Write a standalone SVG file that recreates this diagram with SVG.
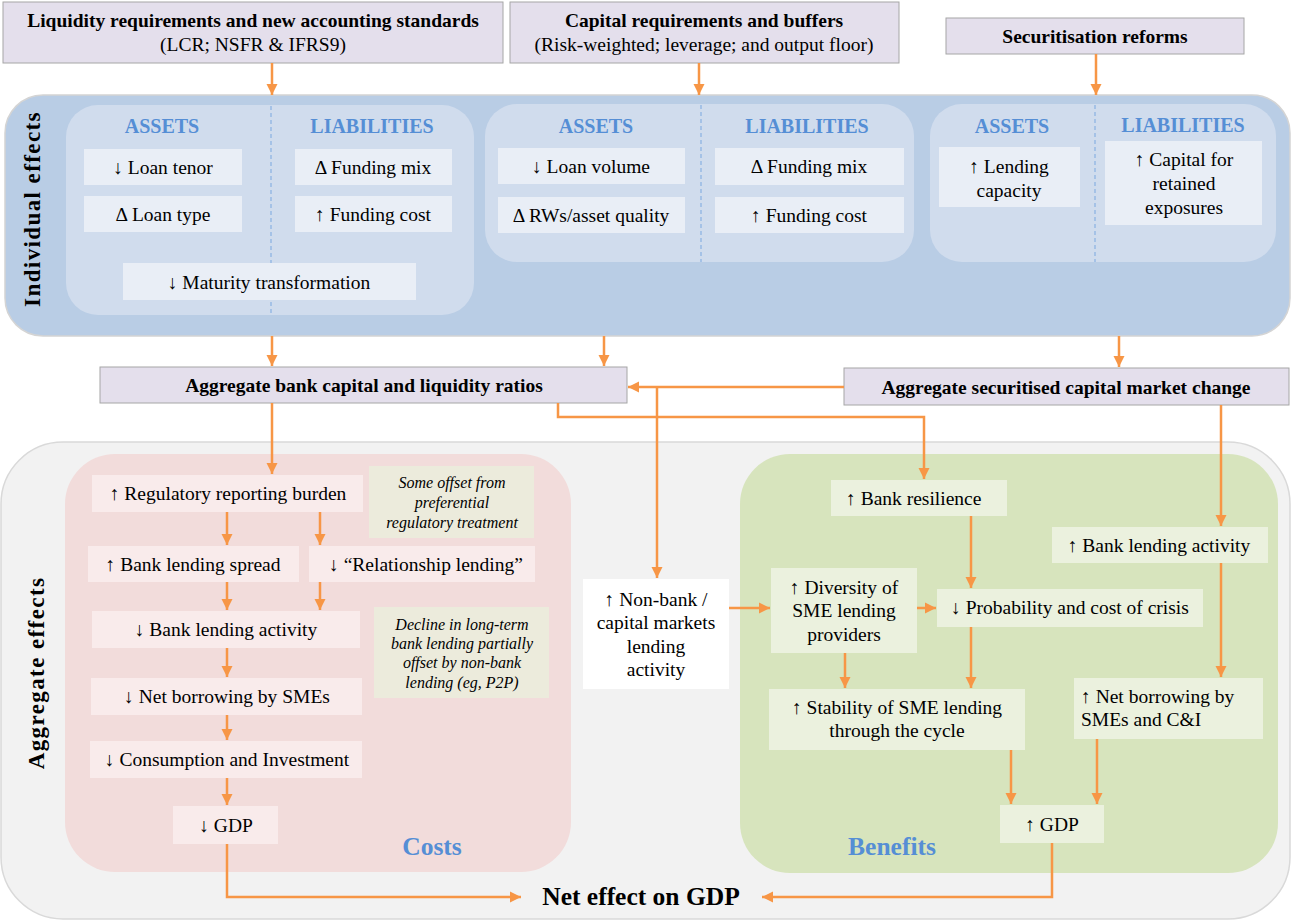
<svg xmlns="http://www.w3.org/2000/svg" width="1292" height="921" viewBox="0 0 1292 921" font-family="'Liberation Serif', 'Times New Roman', serif">
<defs>
<marker id="ah" markerUnits="userSpaceOnUse" markerWidth="12" markerHeight="12" refX="11" refY="6" orient="auto"><path d="M0,0.5 L11,6 L0,11.5 z" fill="#f79646"/></marker>
<style>
text{fill:#000;}
.t{font-size:19.5px;text-anchor:middle;}
.tl{font-size:19.5px;}
.b{font-size:19.5px;font-weight:bold;text-anchor:middle;}
.h{font-size:20px;font-weight:bold;fill:#558ed5;text-anchor:middle;}
.lab{font-size:25.5px;font-weight:bold;fill:#558ed5;text-anchor:middle;}
.side{font-size:23px;font-weight:bold;text-anchor:middle;letter-spacing:1.4px;}
.it{font-size:16px;font-style:italic;text-anchor:middle;}
.hdr{fill:#e4dfec;stroke:#a6a6a6;stroke-width:1;}
.ib{fill:#e9eef6;}
.pb{fill:#f9ebeb;}
.gb{fill:#ebf1de;}
.nb{fill:#ecebdc;}
.dash{stroke:#8eb4e3;stroke-width:1.3;stroke-dasharray:4,3;fill:none;}
.ca{stroke:#f79646;stroke-width:2.5;fill:none;marker-end:url(#ah);}
</style>
</defs>
<rect width="1292" height="921" fill="#ffffff"/>

<g id="individual-panel">
<rect x="5" y="95" width="1285" height="241" rx="38" fill="#b9cde5" stroke="#d4d4d4" stroke-width="1.5"/>
<text class="side" transform="translate(40,209) rotate(-90)">Individual effects</text>
<rect x="66" y="105" width="408" height="210" rx="32" fill="#d0dced"/>
<rect x="485" y="104" width="429" height="158" rx="32" fill="#d0dced"/>
<rect x="930" y="104" width="346" height="158" rx="32" fill="#d0dced"/>
<line class="dash" x1="271" y1="106" x2="271" y2="316"/>
<line class="dash" x1="701" y1="105" x2="701" y2="262"/>
<line class="dash" x1="1095" y1="105" x2="1095" y2="262"/>
<text class="h" x="162" y="133">ASSETS</text>
<text class="h" x="372" y="133">LIABILITIES</text>
<text class="h" x="596" y="133">ASSETS</text>
<text class="h" x="807" y="133">LIABILITIES</text>
<text class="h" x="1012" y="133">ASSETS</text>
<text class="h" x="1183" y="132">LIABILITIES</text>
</g>

<g id="aggregate-panel">
<rect x="1" y="442" width="1289" height="477" rx="62" fill="#f2f2f2" stroke="#d9d9d9" stroke-width="1.5"/>
<text class="side" transform="translate(44,673) rotate(-90)">Aggregate effects</text>
</g>
<g id="costs-panel">
<rect x="65" y="454" width="506" height="418" rx="50" fill="#f2dcdb"/>
<text class="lab" x="432" y="855">Costs</text>
</g>
<g id="benefits-panel">
<rect x="740" y="454" width="538" height="419" rx="50" fill="#d7e4bd"/>
<text class="lab" x="892" y="855">Benefits</text>
</g>

<g id="liquidity-req">
<rect class="hdr" x="3" y="2" width="500" height="61"/>
<text class="b" x="253" y="27">Liquidity requirements  and new accounting standards</text>
<text class="t" x="253" y="51">(LCR; NSFR &amp; IFRS9)</text>
</g>
<g id="capital-req">
<rect class="hdr" x="510" y="2" width="389" height="61"/>
<text class="b" x="704" y="27">Capital requirements and buffers</text>
<text class="t" x="704" y="51">(Risk-weighted;  leverage; and output floor)</text>
</g>
<g id="securitisation">
<rect class="hdr" x="946" y="18" width="298" height="36"/>
<text class="b" x="1095" y="43">Securitisation reforms</text>
</g>

<g id="loan-tenor"><rect class="ib" x="84" y="149" width="158" height="36"/><text class="t" x="163" y="174">↓ Loan  tenor</text></g>
<g id="loan-type"><rect class="ib" x="84" y="196" width="158" height="36"/><text class="t" x="163" y="221">Δ Loan type</text></g>
<g id="funding-mix-1"><rect class="ib" x="295" y="149" width="157" height="36"/><text class="t" x="373" y="174">Δ Funding  mix</text></g>
<g id="funding-cost-1"><rect class="ib" x="295" y="196" width="157" height="36"/><text class="t" x="373" y="221">↑ Funding  cost</text></g>
<g id="maturity"><rect class="ib" x="123" y="263" width="293" height="37"/><text class="t" x="269" y="289">↓ Maturity transformation</text></g>
<g id="loan-volume"><rect class="ib" x="498" y="148" width="187" height="36"/><text class="t" x="591" y="173">↓ Loan  volume</text></g>
<g id="rws"><rect class="ib" x="498" y="197" width="187" height="36"/><text class="t" x="591" y="222">Δ RWs/asset quality</text></g>
<g id="funding-mix-2"><rect class="ib" x="715" y="148" width="189" height="37"/><text class="t" x="809" y="173">Δ Funding  mix</text></g>
<g id="funding-cost-2"><rect class="ib" x="715" y="197" width="189" height="36"/><text class="t" x="809" y="222">↑ Funding  cost</text></g>
<g id="lending-capacity"><rect class="ib" x="939" y="147" width="141" height="60"/><text class="t" x="1009" y="173">↑ Lending</text><text class="t" x="1009" y="197">capacity</text></g>
<g id="capital-retained"><rect class="ib" x="1105" y="141" width="157" height="84"/><text class="t" x="1184" y="166">↑ Capital for</text><text class="t" x="1184" y="190">retained</text><text class="t" x="1184" y="214">exposures</text></g>

<g id="agg-bank"><rect class="hdr" x="100" y="367" width="527" height="36"/><text class="b" x="364" y="392">Aggregate bank capital and liquidity ratios</text></g>
<g id="agg-sec"><rect class="hdr" x="844" y="368" width="445" height="37"/><text class="b" x="1066" y="394">Aggregate securitised capital market change</text></g>

<g id="reg-burden"><rect class="pb" x="92" y="475" width="271" height="37"/><text class="t" x="228" y="500">↑ Regulatory reporting burden</text></g>
<g id="note-offset"><rect class="nb" x="369" y="466" width="165" height="72"/><text class="it" x="452" y="488">Some offset from</text><text class="it" x="452" y="508">preferential</text><text class="it" x="452" y="528">regulatory treatment</text></g>
<g id="lending-spread"><rect class="pb" x="88" y="546" width="211" height="36"/><text class="t" x="193" y="571">↑ Bank lending  spread</text></g>
<g id="relationship"><rect class="pb" x="309" y="546" width="226" height="36"/><text class="t" x="426" y="571">↓ “Relationship  lending”</text></g>
<g id="bank-lending-down"><rect class="pb" x="92" y="611" width="268" height="37"/><text class="t" x="226" y="636">↓ Bank lending  activity</text></g>
<g id="note-decline"><rect class="nb" x="374" y="607" width="175" height="91"/><text class="it" x="462" y="630">Decline in long-term</text><text class="it" x="462" y="649">bank lending partially</text><text class="it" x="462" y="668">offset by non-bank</text><text class="it" x="462" y="688">lending (eg, P2P)</text></g>
<g id="net-borrow-down"><rect class="pb" x="91" y="678" width="271" height="37"/><text class="t" x="227" y="703">↓ Net borrowing  by SMEs</text></g>
<g id="consumption"><rect class="pb" x="90" y="741" width="272" height="37"/><text class="t" x="227" y="766">↓ Consumption  and Investment</text></g>
<g id="gdp-down"><rect class="pb" x="173" y="806" width="105" height="38"/><text class="t" x="226" y="832">↓ GDP</text></g>

<g id="non-bank"><rect x="583" y="579" width="146" height="110" fill="#ffffff"/><text class="t" x="656" y="606">↑ Non-bank /</text><text class="t" x="656" y="629">capital markets</text><text class="t" x="656" y="653">lending</text><text class="t" x="656" y="676">activity</text></g>

<g id="bank-resilience"><rect class="gb" x="831" y="480" width="176" height="36"/><text class="tl" x="846" y="505">↑ Bank resilience</text></g>
<g id="bank-lending-up"><rect class="gb" x="1052" y="527" width="216" height="36"/><text class="t" x="1159" y="552">↑ Bank lending  activity</text></g>
<g id="diversity"><rect class="gb" x="771" y="568" width="146" height="85"/><text class="t" x="844" y="594">↑ Diversity of</text><text class="t" x="844" y="617">SME lending</text><text class="t" x="844" y="641">providers</text></g>
<g id="probability"><rect class="gb" x="937" y="589" width="266" height="38"/><text class="t" x="1070" y="614">↓ Probability and cost of crisis</text></g>
<g id="stability"><rect class="gb" x="769" y="689" width="256" height="61"/><text class="t" x="897" y="714">↑ Stability of SME lending</text><text class="t" x="897" y="737">through  the cycle</text></g>
<g id="net-borrow-up"><rect class="gb" x="1074" y="678" width="189" height="61"/><text class="tl" x="1081" y="703">↑ Net borrowing  by</text><text class="tl" x="1081" y="726">SMEs and C&amp;I</text></g>
<g id="gdp-up"><rect class="gb" x="1000" y="805" width="104" height="38"/><text class="t" x="1052" y="831">↑ GDP</text></g>

<g id="net-effect"><text x="641" y="905" font-size="25.5" font-weight="bold" text-anchor="middle">Net effect on GDP</text></g>

<g id="connectors">
<line class="ca" x1="272" y1="63" x2="272" y2="95"/>
<line class="ca" x1="699" y1="63" x2="699" y2="95"/>
<line class="ca" x1="1096" y1="54" x2="1096" y2="95"/>
<line class="ca" x1="272" y1="336" x2="272" y2="366"/>
<line class="ca" x1="604" y1="336" x2="604" y2="366"/>
<line class="ca" x1="1119" y1="336" x2="1119" y2="367"/>
<line class="ca" x1="844" y1="387" x2="628" y2="387"/>
<polyline class="ca" points="657,387 657,578"/>
<polyline class="ca" points="558,403 558,417 924,417 924,479"/>
<line class="ca" x1="272" y1="403" x2="272" y2="474"/>
<line class="ca" x1="1221" y1="405" x2="1221" y2="526"/>
<line class="ca" x1="227" y1="512" x2="227" y2="545"/>
<line class="ca" x1="320" y1="512" x2="320" y2="545"/>
<line class="ca" x1="227" y1="582" x2="227" y2="610"/>
<line class="ca" x1="320" y1="582" x2="320" y2="610"/>
<line class="ca" x1="227" y1="648" x2="227" y2="677"/>
<line class="ca" x1="227" y1="715" x2="227" y2="740"/>
<line class="ca" x1="227" y1="778" x2="227" y2="805"/>
<polyline class="ca" points="227,844 227,897 521,897"/>
<line class="ca" x1="729" y1="608" x2="770" y2="608"/>
<line class="ca" x1="917" y1="608" x2="936" y2="608"/>
<line class="ca" x1="971" y1="516" x2="971" y2="588"/>
<line class="ca" x1="971" y1="627" x2="971" y2="688"/>
<line class="ca" x1="845" y1="653" x2="845" y2="688"/>
<line class="ca" x1="1221" y1="563" x2="1221" y2="677"/>
<line class="ca" x1="1011" y1="750" x2="1011" y2="804"/>
<line class="ca" x1="1097" y1="739" x2="1097" y2="804"/>
<polyline class="ca" points="1052,843 1052,897 762,897"/>
</g>
</svg>
